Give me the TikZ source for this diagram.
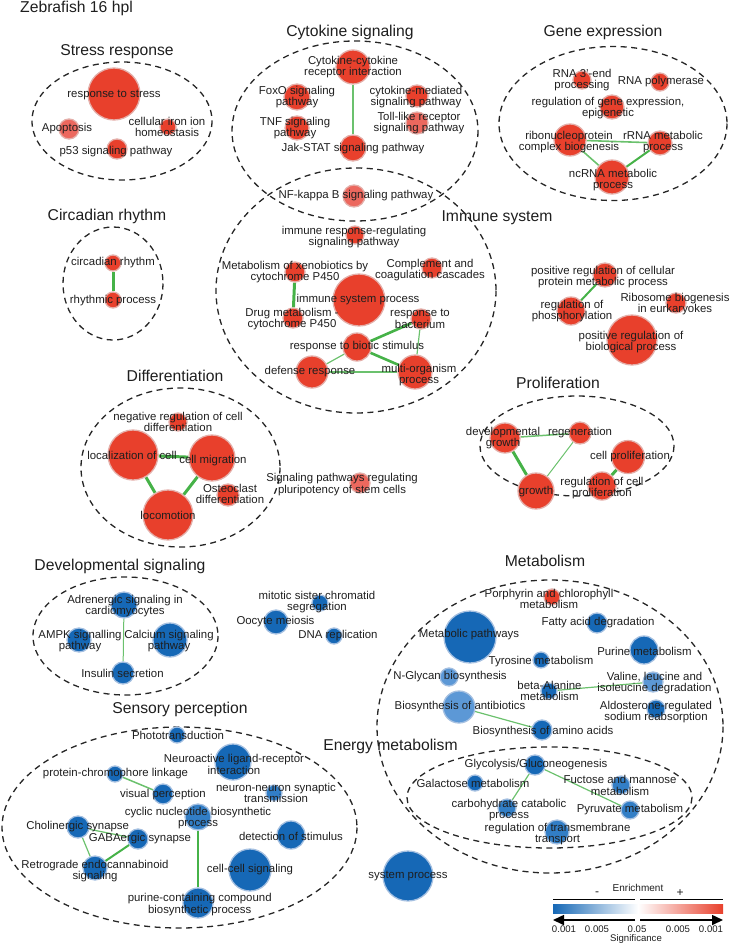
\documentclass[tikz,border=0pt]{standalone}
\usepackage{fontspec}
\setmainfont{Liberation Sans}
\usetikzlibrary{arrows.meta}
\pgfdeclarelayer{bg}
\pgfsetlayers{bg,main}
\definecolor{nred}{RGB}{232,64,44}
\definecolor{nredl}{RGB}{236,104,94}
\definecolor{redb}{RGB}{228,175,170}
\definecolor{nblue}{RGB}{22,104,182}
\definecolor{nbluem}{RGB}{50,126,198}
\definecolor{nbluel}{RGB}{92,152,214}
\definecolor{blueb}{RGB}{165,192,225}
\definecolor{egreen}{RGB}{70,178,72}
\definecolor{txt}{RGB}{30,30,30}
\tikzset{
 rn/.style={circle, fill=nred, draw=redb, line width=1.3pt, inner sep=0pt},
 lrn/.style={rn, fill=nredl},
 bn/.style={circle, fill=nblue, draw=blueb, line width=1.3pt, inner sep=0pt},
 mbn/.style={bn, fill=nbluem},
 lbn/.style={bn, fill=nbluel},
 grp/.style={draw=black!85, line width=1.3pt, dash pattern=on 6pt off 4.5pt},
 ttl/.style={font=\fontsize{15.7}{17}\selectfont, text=txt, inner sep=0pt},
 lab/.style={font=\fontsize{11.4}{11.8}\selectfont, text=txt, align=center, inner sep=0pt},
 lgd/.style={font=\fontsize{10}{11}\selectfont, text=txt, inner sep=0pt},
 num/.style={font=\fontsize{9.6}{10}\selectfont, text=txt, inner sep=0pt},
 ethin/.style={draw=egreen!80!white, line width=1.2pt},
 emid/.style={draw=egreen, line width=2pt},
 ethick/.style={draw=egreen, line width=3pt},
}
\begin{document}
\begin{tikzpicture}[x=1pt,y=-1pt]
\useasboundingbox (0,0) rectangle (730,945);
\node[ttl, anchor=west] (main) at (20,8) {Zebrafish 16 hpl};

% ---------- group outlines and titles
\node[ttl] (tStress) at (117,52) {Stress response};
\draw[grp] (122,121) ellipse [x radius=90, y radius=59];
\node[ttl] (tCyto) at (350,32) {Cytokine signaling};
\draw[grp] (355,131) ellipse [x radius=123, y radius=90];
\node[ttl] (tImm) at (497,218) {Immune system};
\draw[grp] (356,290.5) ellipse [x radius=140, y radius=122.5];
\node[ttl] (tGene) at (603,32) {Gene expression};
\draw[grp] (613,123.5) ellipse [x radius=114, y radius=77];
\node[ttl] (tCirc) at (107,216) {Circadian rhythm};
\draw[grp] (113,283.5) ellipse [x radius=50, y radius=56.5];
\node[ttl] (tProl) at (558,383) {Proliferation};
\draw[grp] (577,446) ellipse [x radius=97, y radius=50];
\node[ttl] (tDiff) at (175,376) {Differentiation};
\draw[grp] (180.5,467.5) ellipse [x radius=99.5, y radius=79.5];
\node[ttl] (tDev) at (120,566) {Developmental signaling};
\draw[grp] (125.5,636) ellipse [x radius=92.5, y radius=59];
\node[ttl] (tMet) at (545,561) {Metabolism};
\draw[grp] (550,726.5) ellipse [x radius=173, y radius=146.5];
\node[ttl] (tEn) at (390.5,746) {Energy metabolism};
\draw[grp] (549.5,797.5) ellipse [x radius=142.5, y radius=50.5];
\node[ttl] (tSens) at (180,709) {Sensory perception};
\draw[grp] (179.5,827.5) ellipse [x radius=177.5, y radius=100.5];

% ---------- circles
% stress
\node[rn, minimum size=52pt] (rs) at (114,94) {};
\node[lrn, minimum size=20pt] (apo) at (69,129) {};
\node[rn, minimum size=16pt] (iron) at (168,127) {};
\node[rn, minimum size=20pt] (p53) at (117,149) {};
% cytokine
\node[rn, minimum size=34pt] (cc) at (353,67) {};
\node[rn, minimum size=26pt] (foxo) at (297,97) {};
\node[rn, minimum size=24pt] (tnf) at (297,128) {};
\node[rn, minimum size=22pt] (cm) at (417,96) {};
\node[lrn, minimum size=22pt] (tlr) at (417,123) {};
\node[rn, minimum size=26pt] (jak) at (353,148) {};
\node[lrn, minimum size=22pt] (nfkb) at (354,196) {};
% immune
\node[rn, minimum size=18pt] (irr) at (355,235) {};
\node[rn, minimum size=20pt] (xeno) at (295,272) {};
\node[rn, minimum size=20pt] (comp) at (432,268) {};
\node[rn, minimum size=52pt] (isp) at (359,300) {};
\node[rn, minimum size=20pt] (drug) at (293,318) {};
\node[rn, minimum size=20pt] (bact) at (421,319) {};
\node[rn, minimum size=28pt] (biot) at (357,347) {};
\node[rn, minimum size=32pt] (def) at (312,372) {};
\node[rn, minimum size=34pt] (multi) at (415,372) {};
% gene expression
\node[rn, minimum size=18pt] (r3) at (582,80) {};
\node[rn, minimum size=18pt] (rpol) at (660,82) {};
\node[rn, minimum size=24pt] (epi) at (612,107) {};
\node[rn, minimum size=32pt] (ribo) at (570,140) {};
\node[rn, minimum size=24pt] (rrna) at (660,143) {};
\node[rn, minimum size=34pt] (ncrna) at (612,177) {};
% circadian
\node[rn, minimum size=16pt] (circ) at (113,263) {};
\node[rn, minimum size=16pt] (rhy) at (113,300) {};
% top right
\node[rn, minimum size=24pt] (prc) at (605,275) {};
\node[rn, minimum size=28pt] (phos) at (571,311) {};
\node[rn, minimum size=20pt] (ribob) at (676,303) {};
\node[rn, minimum size=50pt] (prb) at (632,340) {};
% proliferation
\node[rn, minimum size=30pt] (dg) at (505,438) {};
\node[rn, minimum size=22pt] (regen) at (580,433) {};
\node[rn, minimum size=33pt] (cp) at (628,457) {};
\node[rn, minimum size=36pt] (growth) at (536,491) {};
\node[rn, minimum size=28pt] (rcp) at (602,486) {};
% differentiation
\node[rn, minimum size=18pt] (nrd) at (178,422) {};
\node[rn, minimum size=50pt] (loc) at (133,455) {};
\node[rn, minimum size=46pt] (mig) at (212,458) {};
\node[rn, minimum size=22pt] (ost) at (228,495) {};
\node[rn, minimum size=50pt] (loco) at (168,515) {};
\node[lrn, minimum size=20pt] (plur) at (360,483) {};
% developmental signaling
\node[bn, minimum size=26pt] (adr) at (124,605) {};
\node[bn, minimum size=24pt] (ampk) at (79,640) {};
\node[bn, minimum size=34pt] (calc) at (170,640) {};
\node[bn, minimum size=22pt] (ins) at (123,673) {};
% misc
\node[bn, minimum size=16pt] (mit) at (320,603) {};
\node[bn, minimum size=24pt] (oocyte) at (276,622) {};
\node[bn, minimum size=16pt] (dna) at (334,636) {};
% metabolism
\node[rn, minimum size=16pt] (porph) at (552,597) {};
\node[bn, minimum size=20pt] (fatty) at (597,623) {};
\node[bn, minimum size=52pt] (metp) at (470,637) {};
\node[bn, minimum size=28pt] (pur) at (644,650) {};
\node[bn, minimum size=16pt] (tyr) at (541,660) {};
\node[lbn, minimum size=18pt] (ngly) at (449,677) {};
\node[bn, minimum size=16pt] (bala) at (549,691) {};
\node[lbn, minimum size=20pt] (val) at (653,682) {};
\node[lbn, minimum size=32pt] (anti) at (459,707) {};
\node[bn, minimum size=18pt] (aldo) at (656,709) {};
\node[bn, minimum size=20pt] (amino) at (542,730) {};
% energy
\node[bn, minimum size=20pt] (gly) at (535,765) {};
\node[bn, minimum size=16pt] (gal) at (475,783) {};
\node[mbn, minimum size=18pt] (fuc) at (621,785) {};
\node[mbn, minimum size=18pt] (carb) at (507,808) {};
\node[mbn, minimum size=18pt] (pyr) at (630,810) {};
\node[mbn, minimum size=24pt] (rtt) at (557,832) {};
\node[bn, minimum size=50pt] (sysp) at (408,876) {};
% sensory
\node[bn, minimum size=16pt] (photo) at (177,735) {};
\node[bn, minimum size=36pt] (neuro) at (233,762) {};
\node[bn, minimum size=16pt] (pcl) at (115,774) {};
\node[bn, minimum size=20pt] (vis) at (163,794) {};
\node[mbn, minimum size=16pt] (nn) at (274,793) {};
\node[mbn, minimum size=26pt] (cyc) at (198,817) {};
\node[bn, minimum size=22pt] (chol) at (78,827) {};
\node[bn, minimum size=20pt] (gaba) at (138,839) {};
\node[bn, minimum size=28pt] (det) at (291,835) {};
\node[bn, minimum size=24pt] (retro) at (95,868) {};
\node[bn, minimum size=42pt] (ccs) at (250,870) {};
\node[bn, minimum size=30pt] (purc) at (198,903) {};

% ---------- edges
\begin{pgfonlayer}{bg}
\draw[ethin] (cc) -- (jak);
\draw[ethick] (xeno) -- (drug);
\draw[emid, line width=2.6pt] (biot) -- (bact);
\draw[emid, line width=2.6pt] (biot) -- (multi);
\draw[ethin] (biot) -- (def);
\draw[ethin] (def) -- (multi);
\draw[ethin] (bact) -- (multi);
\draw[ethin, line width=1.6pt] (ribo) -- (rrna);
\draw[ethin, line width=1.6pt] (ribo) -- (ncrna);
\draw[emid] (rrna) -- (ncrna);
\draw[ethick] (circ) -- (rhy);
\draw[emid] (prc) -- (phos);
\draw[ethin, line width=1.5pt] (dg) -- (regen);
\draw[ethick] (dg) -- (growth);
\draw[ethin, line width=1pt] (regen) -- (growth);
\draw[ethick] (cp) -- (rcp);
\draw[ethick] (loc) -- (mig);
\draw[ethick] (loc) -- (loco);
\draw[ethick] (mig) -- (loco);
\draw[ethin, line width=1pt] (adr) -- (ins);
\draw[ethin] (bala) -- (val);
\draw[ethin] (anti) -- (amino);
\draw[ethin] (gly) -- (carb);
\draw[ethin] (gly) -- (pyr);
\draw[ethin, line width=1.5pt] (pcl) -- (vis);
\draw[ethin] (chol) -- (gaba);
\draw[ethin] (chol) -- (retro);
\draw[emid] (gaba) -- (retro);
\draw[emid, line width=2.6pt] (cyc) -- (purc);
\end{pgfonlayer}

% ---------- labels
\node[lab] (rsL) at (114,95) {response to stress};
\node[lab] (apoL) at (67,129) {Apoptosis};
\node[lab] (ironL) at (167,127) {cellular iron ion\\homeostasis};
\node[lab] (p53L) at (116,152) {p53 signaling pathway};
\node[lab] (ccL) at (353,67) {Cytokine-cytokine\\receptor interaction};
\node[lab] (foxoL) at (297,97) {FoxO signaling\\pathway};
\node[lab] (tnfL) at (295,128) {TNF signaling\\pathway};
\node[lab] (cmL) at (416,97) {cytokine-mediated\\signaling pathway};
\node[lab] (tlrL) at (419,123) {Toll-like receptor\\signaling pathway};
\node[lab] (jakL) at (353,149) {Jak-STAT signaling pathway};
\node[lab] (nfkbL) at (356,196) {NF-kappa B signaling pathway};
\node[lab] (irrL) at (354,237) {immune response-regulating\\signaling pathway};
\node[lab] (xenoL) at (295,272) {Metabolism of xenobiotics by\\cytochrome P450};
\node[lab] (compL) at (430,270) {Complement and\\coagulation cascades};
\node[lab] (ispL) at (358,300) {immune system process};
\node[lab] (drugL) at (292,319) {Drug metabolism -\\cytochrome P450};
\node[lab] (bactL) at (420,319) {response to\\bacterium};
\node[lab] (biotL) at (357,347) {response to biotic stimulus};
\node[lab] (defL) at (310,372) {defense response};
\node[lab] (multiL) at (419,375) {multi-organism\\process};
\node[lab] (r3L) at (582,80) {RNA 3'-end\\processing};
\node[lab] (rpolL) at (661,82) {RNA polymerase};
\node[lab] (epiL) at (608,108) {regulation of gene expression,\\epigenetic};
\node[lab] (riboL) at (569,142) {ribonucleoprotein\\complex biogenesis};
\node[lab] (rrnaL) at (663,142) {rRNA metabolic\\process};
\node[lab] (ncrnaL) at (613,180) {ncRNA metabolic\\process};
\node[lab] (circL) at (113,263) {circadian rhythm};
\node[lab] (rhyL) at (113,301) {rhythmic process};
\node[lab] (prcL) at (603,277) {positive regulation of cellular\\protein metabolic process};
\node[lab] (phosL) at (572,311) {regulation of\\phosphorylation};
\node[lab] (ribobL) at (675,304) {Ribosome biogenesis\\in eurkaryokes};
\node[lab] (prbL) at (631,342) {positive regulation of\\biological process};
\node[lab] (dgL) at (503,438) {developmental\\growth};
\node[lab] (regenL) at (580,433) {regeneration};
\node[lab] (cpL) at (630,457) {cell proliferation};
\node[lab] (growthL) at (536,492) {growth};
\node[lab] (rcpL) at (602,488) {regulation of cell\\proliferation};
\node[lab] (nrdL) at (178,422) {negative regulation of cell\\differentiation};
\node[lab] (locL) at (132,455) {localization of cell};
\node[lab] (migL) at (213,461) {cell migration};
\node[lab] (ostL) at (230,494) {Osteoclast\\differentiation};
\node[lab] (locoL) at (168,515) {locomotion};
\node[lab] (plurL) at (342,484.5) {Signaling pathways regulating\\pluripotency of stem cells};
\node[lab] (adrL) at (125,606) {Adrenergic signaling in\\cardiomyocytes};
\node[lab] (ampkL) at (80,641) {AMPK signalling\\pathway};
\node[lab] (calcL) at (169,641) {Calcium signaling\\pathway};
\node[lab] (insL) at (122.5,673) {Insulin secretion};
\node[lab] (mitL) at (317,602) {mitotic sister chromatid\\segregation};
\node[lab] (oocyteL) at (275.5,622) {Oocyte meiosis};
\node[lab] (dnaL) at (338,636) {DNA replication};
\node[lab] (porphL) at (549,599) {Porphyrin and chlorophyll\\metabolism};
\node[lab] (fattyL) at (598,623) {Fatty acid degradation};
\node[lab] (metpL) at (469,635) {Metabolic pathways};
\node[lab] (purL) at (644.5,651) {Purine metabolism};
\node[lab] (tyrL) at (541,662) {Tyrosine metabolism};
\node[lab] (nglyL) at (450,677) {N-Glycan biosynthesis};
\node[lab] (balaL) at (549.5,691) {beta-Alanine\\metabolism};
\node[lab] (valL) at (654.5,683) {Valine, leucine and\\isoleucine degradation};
\node[lab] (antiL) at (460,707) {Biosynthesis of antibiotics};
\node[lab] (aldoL) at (656,712) {Aldosterone-regulated\\sodium reabsorption};
\node[lab] (aminoL) at (543,732) {Biosynthesis of amino acids};
\node[lab] (glyL) at (536,765) {Glycolysis/Gluconeogenesis};
\node[lab] (galL) at (473,783) {Galactose metabolism};
\node[lab] (fucL) at (620,785.5) {Fuctose and mannose\\metabolism};
\node[lab] (carbL) at (509,810) {carbohydrate catabolic\\process};
\node[lab] (pyrL) at (630,810) {Pyruvate metabolism};
\node[lab] (rttL) at (557.5,834) {regulation of transmembrane\\transport};
\node[lab] (syspL) at (408,876) {system process};
\node[lab] (photoL) at (178,735) {Phototransduction};
\node[lab] (neuroL) at (234,764.5) {Neuroactive ligand-receptor\\interaction};
\node[lab] (pclL) at (115.5,774) {protein-chromophore linkage};
\node[lab] (visL) at (163,795) {visual perception};
\node[lab] (nnL) at (276,793) {neuron-neuron synaptic\\transmission};
\node[lab] (cycL) at (198,818) {cyclic nucleotide biosynthetic\\process};
\node[lab] (cholL) at (77.7,827) {Cholinergic synapse};
\node[lab] (gabaL) at (140,839) {GABAergic synapse};
\node[lab] (detL) at (291,836) {detection of stimulus};
\node[lab] (retroL) at (95,871) {Retrograde endocannabinoid\\signaling};
\node[lab] (ccsL) at (250,870) {cell-cell signaling};
\node[lab] (purcL) at (199.7,904.5) {purine-containing compound\\biosynthetic process};

% ---------- legend
\node[lgd] (enr) at (638,888) {Enrichment};
\coordinate (l1a) at (553,899); \coordinate (l1b) at (635,899);
\coordinate (l2a) at (640,899); \coordinate (l2b) at (723,899);
\draw[line width=0.9pt] (l1a) -- (l1b);
\draw[line width=0.9pt] (l2a) -- (l2b);
\node[lgd, font=\fontsize{12}{12}\selectfont] (minus) at (597,894) {-};
\node[lgd, font=\fontsize{12}{12}\selectfont] (plus) at (680,893) {+};
\shade[left color=nblue, right color=white] (553,904) rectangle (638,913);
\shade[left color=white, right color=nred] (638,904) rectangle (723,913);
\coordinate (a1s) at (635,920); \coordinate (a1e) at (553,920);
\coordinate (a2s) at (640,920); \coordinate (a2e) at (723,920);
\draw[line width=1.6pt, -{Triangle[length=11pt,width=10pt]}] (a1s) -- (a1e);
\draw[line width=1.6pt, -{Triangle[length=11pt,width=10pt]}] (a2s) -- (a2e);
\node[num] (v1) at (564,929) {0.001};
\node[num] (v2) at (597,929) {0.005};
\node[num] (v3) at (637,929) {0.05};
\node[num] (v4) at (678,929) {0.005};
\node[num] (v5) at (711,929) {0.001};
\node[num, anchor=north] (sig) at (636,934.6) {Significance};
\end{tikzpicture}
\end{document}
